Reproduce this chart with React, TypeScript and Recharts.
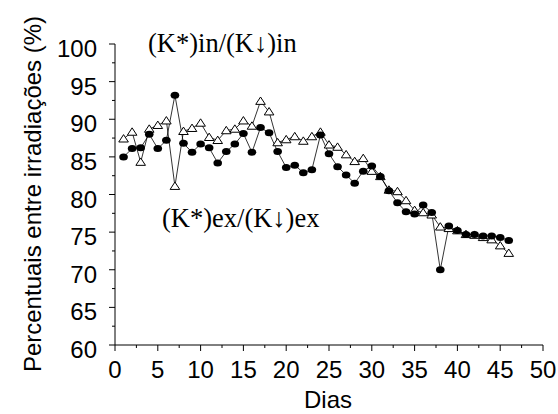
import React from "react";
import { LineChart, Line, XAxis, YAxis } from "recharts";

const days = [
  1, 2, 3, 4, 5, 6, 7, 8, 9, 10, 11, 12, 13, 14, 15, 16, 17, 18, 19, 20, 21, 22, 23,
  24, 25, 26, 27, 28, 29, 30, 31, 32, 33, 34, 35, 36, 37, 38, 39, 40, 41, 42, 43, 44,
  45, 46,
];

// filled circles
const circleVals = [
  85.0, 86.1, 86.2, 88.0, 86.1, 87.2, 93.2, 86.8, 85.6, 86.7, 86.2, 84.2, 85.7, 86.7,
  88.1, 85.6, 88.9, 88.2, 85.7, 83.6, 83.9, 82.9, 83.3, 87.9, 85.4, 83.7, 82.6, 81.5,
  83.1, 83.8, 82.4, 80.5, 78.9, 77.7, 77.4, 78.6, 77.6, 70.0, 75.8, 75.2, 74.7, 74.7,
  74.5, 74.5, 74.3, 73.9,
];

// open triangles
const triangleVals = [
  87.4, 88.3, 84.3, 88.7, 89.2, 89.8, 81.1, 88.4, 88.8, 89.5, 87.6, 87.2, 88.5, 88.7,
  89.8, 89.1, 92.4, 91.0, 86.9, 87.3, 87.7, 87.1, 87.7, 88.3, 86.6, 86.3, 85.3, 84.4,
  84.8, 83.1, 82.4, 80.6, 80.4, 79.2, 77.9, 77.6, 77.3, 75.7, 75.5, 75.2, 74.7, 74.6,
  74.3, 74.0, 73.2, 72.2,
];

const xTicks = [
  0, 2.5, 5, 7.5, 10, 12.5, 15, 17.5, 20, 22.5, 25, 27.5, 30, 32.5, 35, 37.5, 40, 42.5,
  45, 47.5, 50,
];
const yTicks = [
  60, 62.5, 65, 67.5, 70, 72.5, 75, 77.5, 80, 82.5, 85, 87.5, 90, 92.5, 95, 97.5, 100,
];

const data = days.map((d, i) => ({ day: d, circ: circleVals[i], tri: triangleVals[i] }));

const SANS = "'Liberation Sans', Arial, sans-serif";
const SERIF = "'Liberation Serif', 'Times New Roman', serif";

const XTick = (props: any) => {
  const { x, y, payload } = props;
  const major = payload.value % 5 === 0;
  return (
    <g>
      <line x1={x} x2={x} y1={y} y2={y + (major ? 6 : 3)} stroke="#000" strokeWidth={1} />
      {major && (
        <text x={x} y={y + 33} textAnchor="middle" fontSize={24} fontFamily={SANS} fill="#000">
          {payload.value}
        </text>
      )}
    </g>
  );
};

const YTick = (props: any) => {
  const { x, y, payload } = props;
  const major = payload.value % 5 === 0;
  return (
    <g>
      <line x1={x - (major ? 6 : 3)} x2={x} y1={y} y2={y} stroke="#000" strokeWidth={1} />
      {major && (
        <text x={x - 18} y={y + 13} textAnchor="end" fontSize={24} fontFamily={SANS} fill="#000">
          {payload.value}
        </text>
      )}
    </g>
  );
};

const CircleDot = (props: any) => {
  const { cx, cy, index } = props;
  return <ellipse key={`c-${index}`} cx={cx} cy={cy} rx={4.3} ry={3.5} fill="#000" />;
};

const TriangleDot = (props: any) => {
  const { cx, cy, index } = props;
  return (
    <path
      key={`t-${index}`}
      d={`M${cx},${cy - 4.2} L${cx + 4.8},${cy + 3.2} L${cx - 4.8},${cy + 3.2} Z`}
      fill="#fff"
      stroke="#000"
      strokeWidth={1}
    />
  );
};

export default function App() {
  return (
    <div style={{ position: "absolute", left: 0, top: 0, width: 558, height: 414, background: "#fff" }}>
      <LineChart
        width={558}
        height={414}
        data={data}
        margin={{ top: 44, right: 15, left: 0, bottom: 0 }}
      >
        <XAxis
          dataKey="day"
          type="number"
          domain={[0, 50]}
          ticks={xTicks}
          interval={0}
          height={69}
          tickSize={0}
          tickMargin={0}
          tickLine={false}
          axisLine={{ stroke: "#000", strokeWidth: 1 }}
          tick={<XTick />}
        />
        <YAxis
          type="number"
          domain={[60, 100]}
          ticks={yTicks}
          interval={0}
          width={115}
          tickSize={0}
          tickMargin={0}
          tickLine={false}
          axisLine={{ stroke: "#000", strokeWidth: 1 }}
          tick={<YTick />}
        />
        <Line
          dataKey="tri"
          stroke="#000"
          strokeWidth={0.8}
          dot={<TriangleDot />}
          activeDot={false}
          isAnimationActive={false}
        />
        <Line
          dataKey="circ"
          stroke="#000"
          strokeWidth={0.8}
          dot={<CircleDot />}
          activeDot={false}
          isAnimationActive={false}
        />
        <text x={148} y={52} fontSize={26.5} fontFamily={SERIF} fill="#000">
          (K*)in/(K↓)in
        </text>
        <text x={162} y={227} fontSize={26.5} fontFamily={SERIF} fill="#000">
          (K*)ex/(K↓)ex
        </text>
        <text x={328} y={408} textAnchor="middle" fontSize={24} fontFamily={SANS} fill="#000">
          Dias
        </text>
        <text
          transform="rotate(-90)"
          x={-194}
          y={41}
          textAnchor="middle"
          fontSize={24}
          fontFamily={SANS}
          fill="#000"
        >
          Percentuais entre irradiações (%)
        </text>
      </LineChart>
    </div>
  );
}
